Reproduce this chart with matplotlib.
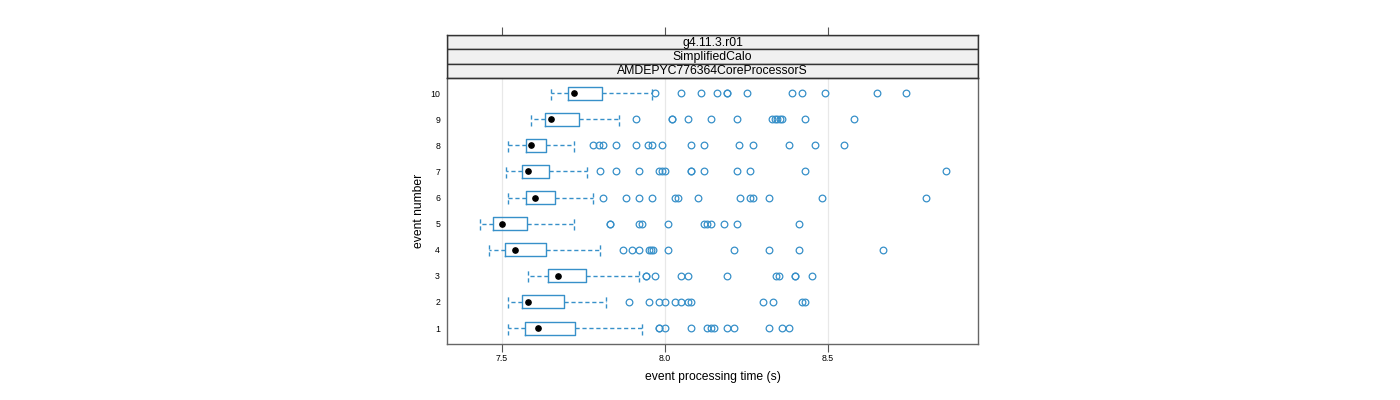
import matplotlib
matplotlib.use("Agg")
import matplotlib.pyplot as plt
from matplotlib.patches import Rectangle

plt.rcParams['font.family'] = ['Liberation Sans', 'DejaVu Sans']

# ---- data ----
events = [1, 2, 3, 4, 5, 6, 7, 8, 9, 10]
whislo = [7.519, 7.519, 7.581, 7.460, 7.432, 7.519, 7.511, 7.519, 7.590, 7.649]
q1 = [7.571, 7.560, 7.640, 7.510, 7.471, 7.572, 7.560, 7.572, 7.631, 7.702]
med = [7.610, 7.581, 7.670, 7.541, 7.500, 7.600, 7.581, 7.590, 7.650, 7.720]
q3 = [7.725, 7.690, 7.756, 7.636, 7.576, 7.662, 7.645, 7.635, 7.735, 7.806]
whishi = [7.929, 7.820, 7.920, 7.801, 7.721, 7.780, 7.760, 7.721, 7.860, 7.960]
fliers_1 = [7.980, 7.980, 8.000, 8.080, 8.130, 8.140, 8.150, 8.190, 8.210, 8.320, 8.360, 8.380]
fliers_2 = [7.890, 7.950, 7.980, 8.000, 8.030, 8.050, 8.070, 8.080, 8.300, 8.330, 8.420, 8.430]
fliers_3 = [7.940, 7.940, 7.970, 8.050, 8.070, 8.190, 8.340, 8.350, 8.400, 8.400, 8.450]
fliers_4 = [7.870, 7.900, 7.920, 7.950, 7.958, 7.962, 8.010, 8.210, 8.320, 8.410, 8.670]
fliers_5 = [7.830, 7.830, 7.920, 7.930, 8.010, 8.120, 8.130, 8.140, 8.180, 8.220, 8.410]
fliers_6 = [7.811, 7.880, 7.920, 7.960, 8.030, 8.040, 8.100, 8.230, 8.260, 8.270, 8.320, 8.481, 8.801]
fliers_7 = [7.800, 7.850, 7.920, 7.980, 7.990, 8.000, 8.081, 8.081, 8.120, 8.220, 8.261, 8.430, 8.861]
fliers_8 = [7.780, 7.798, 7.811, 7.850, 7.910, 7.949, 7.961, 7.990, 8.080, 8.120, 8.228, 8.270, 8.380, 8.460, 8.550]
fliers_9 = [7.910, 8.020, 8.020, 8.070, 8.140, 8.220, 8.328, 8.336, 8.344, 8.353, 8.360, 8.430, 8.581]
fliers_10 = [7.970, 8.050, 8.110, 8.160, 8.190, 8.190, 8.251, 8.390, 8.420, 8.491, 8.650, 8.740]
fliers = [fliers_1, fliers_2, fliers_3, fliers_4, fliers_5, fliers_6, fliers_7, fliers_8, fliers_9, fliers_10]
x_ticks = [7.5, 8.0, 8.5]
x_ticklabels = ["7.5", "8.0", "8.5"]
strip_labels = ["g4.11.3.r01", "SimplifiedCalo", "AMDEPYC776364CoreProcessorS"]
x_label = "event processing time (s)"
y_label = "event number"

# ---- style ----
BLUE = "#3790c9"
W, H = 1400, 400
fig = plt.figure(figsize=(W / 100, H / 100), dpi=100)

px_l, px_r, px_top, px_bot = 447, 978, 78, 344
strip_top = 35
ax = fig.add_axes([px_l / W, 1 - px_bot / H, (px_r - px_l) / W, (px_bot - px_top) / H])

stats = []
for i, e in enumerate(events):
    stats.append(dict(label=str(e), whislo=whislo[i], q1=q1[i], med=med[i],
                      q3=q3[i], whishi=whishi[i], mean=med[i], fliers=fliers[i]))

ax.bxp(stats, positions=events, orientation='horizontal', widths=0.5, capwidths=0.5,
       showmeans=True, meanline=False, patch_artist=False,
       boxprops=dict(color=BLUE, linewidth=1.0),
       whiskerprops=dict(color=BLUE, linewidth=1.0, linestyle=(0, (3, 2))),
       capprops=dict(color=BLUE, linewidth=1.0, linestyle=(0, (3, 2))),
       medianprops=dict(linewidth=0),
       meanprops=dict(marker='o', markerfacecolor='black', markeredgecolor='black', markersize=3.8),
       flierprops=dict(marker='o', markerfacecolor='none', markeredgecolor=BLUE,
                       markersize=4.8, markeredgewidth=0.9))

ax.set_xlim(7.331, 8.960)
ax.set_ylim(0.39, 10.58)
for xv in x_ticks:
    ax.axvline(xv, color="#e8e8e8", linewidth=0.9, zorder=0)
ax.set_xticks(x_ticks)
ax.set_xticklabels(x_ticklabels, fontsize=6.3)
ax.set_yticks(events)
ax.set_yticklabels([str(e) for e in events], fontsize=6.3)
ax.tick_params(axis='x', direction='out', length=6, width=0.8, color="#555555", pad=1)
ax.tick_params(axis='y', length=0, pad=5)
for s in ax.spines.values():
    s.set_color("#666666")
    s.set_linewidth(1.0)
ax.set_xlabel(x_label, fontsize=8.7, labelpad=6)
ax.set_ylabel(y_label, fontsize=8.7, labelpad=4)

# strips
sax = fig.add_axes([px_l / W, 1 - px_top / H, (px_r - px_l) / W, (px_top - strip_top) / H])
sax.set_xlim(ax.get_xlim())
sax.set_ylim(0, 3)
n = len(strip_labels)
for i, lab in enumerate(strip_labels):
    y0 = n - 1 - i
    sax.add_patch(Rectangle((ax.get_xlim()[0], y0), ax.get_xlim()[1] - ax.get_xlim()[0], 1,
                            facecolor="#f0f0f0", edgecolor="#333333", linewidth=1.0))
    sax.text(sum(ax.get_xlim()) / 2, y0 + 0.47, lab, ha='center', va='center', fontsize=8.85)
sax.set_xticks(x_ticks)
sax.set_yticks([])
sax.xaxis.tick_top()
sax.tick_params(axis='x', direction='out', length=6, width=0.8, color="#555555", labeltop=False)
for s in sax.spines.values():
    s.set_color("#333333")
    s.set_linewidth(1.0)

fig.savefig("out.png", dpi=100)
